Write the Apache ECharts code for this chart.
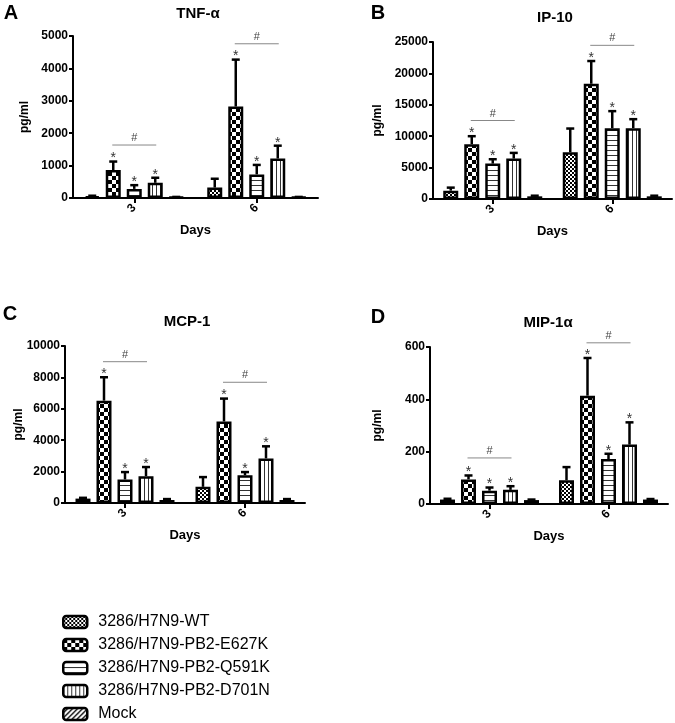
<!DOCTYPE html>
<html>
<head>
<meta charset="utf-8">
<script src="https://cdn.jsdelivr.net/npm/echarts@6/dist/echarts.min.js"></script>
<style>
html, body { margin: 0; padding: 0; background: #fff; }
#chart { width: 675px; height: 723px; }
</style>
</head>
<body>
<div id="chart"></div>
<script>
var days = ['3', '6'];
var groups = ['3286/H7N9-WT', '3286/H7N9-PB2-E627K', '3286/H7N9-PB2-Q591K', '3286/H7N9-PB2-D701N', 'Mock'];
var starred = [0, 1, 1, 1, 0];

// means and SD per group, [day 3, day 6]
var tnfMean = [[52, 323], [865, 2823], [281, 729], [469, 1219], [25, 25]];
var tnfErr = [[18, 271], [260, 1448], [115, 292], [156, 396], [8, 8]];
var tnfHash = [1635, 4760];

var ip10Mean = [[1330, 7450], [8720, 18350], [5640, 11280], [6440, 11280], [425, 425]];
var ip10Err = [[480, 3770], [1280, 3620], [690, 2710], [900, 1430], [100, 100]];
var ip10Hash = [12500, 24470];

var mcp1Mean = [[280, 1030], [6520, 5190], [1500, 1770], [1710, 2840], [190, 190]];
var mcp1Err = [[50, 620], [1490, 1460], [470, 200], [580, 770], [60, 60]];
var mcp1Hash = [9000, 7690];

var mip1aMean = [[17, 91], [94, 414], [51, 172], [54, 227], [15, 17]];
var mip1aErr = [[3, 50], [15, 144], [12, 20], [14, 85], [2, 2]];
var mip1aHash = [176, 616];

var FONT = 'Liberation Sans, Arial, sans-serif';
var BAR_W = 15;
var PITCH = 21; // barWidth + gap (40%)

function pattern(kind) {
    var c = document.createElement('canvas');
    var ctx;
    if (kind === 'fine') {
        c.width = 4; c.height = 4;
        ctx = c.getContext('2d');
        ctx.fillStyle = '#fff'; ctx.fillRect(0, 0, 4, 4);
        ctx.fillStyle = '#000'; ctx.fillRect(0, 0, 2, 2); ctx.fillRect(2, 2, 2, 2);
    } else if (kind === 'big') {
        c.width = 8; c.height = 8;
        ctx = c.getContext('2d');
        ctx.fillStyle = '#fff'; ctx.fillRect(0, 0, 8, 8);
        ctx.fillStyle = '#000'; ctx.fillRect(0, 0, 4, 4); ctx.fillRect(4, 4, 4, 4);
    } else if (kind === 'hlines') {
        c.width = 4; c.height = 5;
        ctx = c.getContext('2d');
        ctx.fillStyle = '#fff'; ctx.fillRect(0, 0, 4, 5);
        ctx.fillStyle = '#333'; ctx.fillRect(0, 0, 4, 1);
    } else if (kind === 'vlines') {
        c.width = 4; c.height = 4;
        ctx = c.getContext('2d');
        ctx.fillStyle = '#fff'; ctx.fillRect(0, 0, 4, 4);
        ctx.fillStyle = '#333'; ctx.fillRect(0, 0, 1, 4);
    } else {
        c.width = 5; c.height = 5;
        ctx = c.getContext('2d');
        ctx.fillStyle = '#fff'; ctx.fillRect(0, 0, 5, 5);
        ctx.strokeStyle = '#000'; ctx.lineWidth = 1.3;
        ctx.beginPath();
        ctx.moveTo(-1, 6); ctx.lineTo(6, -1);
        ctx.moveTo(-1, 1); ctx.lineTo(1, -1);
        ctx.moveTo(4, 6); ctx.lineTo(6, 4);
        ctx.stroke();
    }
    return { image: c, repeat: 'repeat' };
}

var fills = [pattern('fine'), pattern('big'), pattern('hlines'), pattern('vlines'), pattern('diag')];

var panels = [
    { letter: 'A', title: 'TNF-α', mean: tnfMean, err: tnfErr, hash: tnfHash, max: 5000, step: 1000,
      grid: { left: 73, top: 36, width: 245, height: 162 }, nameGap: 42, tx: 198, ty: 14, lx: 11, ly: 13 },
    { letter: 'B', title: 'IP-10', mean: ip10Mean, err: ip10Err, hash: ip10Hash, max: 25000, step: 5000,
      grid: { left: 433, top: 42, width: 239, height: 157 }, nameGap: 49, tx: 555, ty: 18, lx: 378, ly: 13 },
    { letter: 'C', title: 'MCP-1', mean: mcp1Mean, err: mcp1Err, hash: mcp1Hash, max: 10000, step: 2000,
      grid: { left: 65, top: 346, width: 240, height: 157 }, nameGap: 40, tx: 187, ty: 322, lx: 10, ly: 314 },
    { letter: 'D', title: 'MIP-1α', mean: mip1aMean, err: mip1aErr, hash: mip1aHash, max: 600, step: 200,
      grid: { left: 430, top: 347, width: 238, height: 157 }, nameGap: 46, tx: 548, ty: 323, lx: 378, ly: 317 }
];

function renderErr(params, api) {
    var day = api.value(0), v = api.value(1), e = api.value(2), g = api.value(3), star = api.value(4);
    var base = api.coord([day, v]);
    var top = api.coord([day, v + e]);
    var x = base[0] + (g - 2) * PITCH;
    var kids = [
        { type: 'line', shape: { x1: x, y1: base[1], x2: x, y2: top[1] }, style: { stroke: '#000', lineWidth: 2.5 } },
        { type: 'line', shape: { x1: x - 4, y1: top[1], x2: x + 4, y2: top[1] }, style: { stroke: '#000', lineWidth: 2.5 } }
    ];
    if (star) {
        kids.push({ type: 'text', style: { text: '*', x: x, y: top[1] - 3, align: 'center', verticalAlign: 'middle',
            fontSize: 14, fontFamily: FONT, fill: '#333' } });
    }
    return { type: 'group', children: kids };
}

function renderHash(params, api) {
    var p = api.coord([api.value(0), api.value(1)]);
    return { type: 'group', children: [
        { type: 'line', shape: { x1: p[0] - 22, y1: p[1], x2: p[0] + 22, y2: p[1] }, style: { stroke: '#888', lineWidth: 1 } },
        { type: 'text', style: { text: '#', x: p[0], y: p[1] - 7, align: 'center', verticalAlign: 'middle',
            fontSize: 11, fontFamily: FONT, fill: '#444' } }
    ] };
}

var grids = [], xAxes = [], yAxes = [], series = [], graphics = [];

panels.forEach(function (p, i) {
    grids.push(Object.assign({ outerBoundsMode: 'none' }, p.grid));
    xAxes.push({
        type: 'category', gridIndex: i, data: days,
        name: 'Days', nameLocation: 'middle', nameGap: 26, nameMoveOverlap: false,
        nameTextStyle: { fontSize: 13, fontWeight: 'bold', fontFamily: FONT, color: '#000' },
        axisLine: { show: true, lineStyle: { color: '#000', width: 2 } },
        axisTick: { show: true, alignWithLabel: true, length: 5, lineStyle: { color: '#000', width: 2 } },
        axisLabel: { rotate: 45, margin: 8, fontSize: 12, fontWeight: 'bold', fontFamily: FONT, color: '#000' },
        splitLine: { show: false }
    });
    yAxes.push({
        type: 'value', gridIndex: i, min: 0, max: p.max, interval: p.step,
        name: 'pg/ml', nameLocation: 'middle', nameGap: p.nameGap, nameRotate: 90, nameMoveOverlap: false,
        nameTextStyle: { fontSize: 12, fontWeight: 'bold', fontFamily: FONT, color: '#000' },
        axisLine: { show: true, lineStyle: { color: '#000', width: 2 } },
        axisTick: { show: true, length: 4, lineStyle: { color: '#000', width: 2 } },
        axisLabel: { margin: 5, fontSize: 12, fontWeight: 'bold', fontFamily: FONT, color: '#000',
            formatter: function (v) { return String(v); } },
        splitLine: { show: false }
    });
    groups.forEach(function (name, g) {
        series.push({
            type: 'bar', name: name, xAxisIndex: i, yAxisIndex: i,
            data: p.mean[g], barWidth: BAR_W, barGap: '40%',
            itemStyle: { color: fills[g], borderColor: '#000', borderWidth: 2.5 },
            emphasis: { disabled: true }
        });
    });
    var errData = [];
    groups.forEach(function (name, g) {
        days.forEach(function (d, di) {
            errData.push([di, p.mean[g][di], p.err[g][di], g, starred[g]]);
        });
    });
    series.push({ type: 'custom', xAxisIndex: i, yAxisIndex: i, renderItem: renderErr, data: errData, z: 5, clip: false });
    series.push({ type: 'custom', xAxisIndex: i, yAxisIndex: i, renderItem: renderHash, z: 5, clip: false,
        data: p.hash.map(function (v, di) { return [di, v]; }) });
    graphics.push({ type: 'text', x: p.tx, y: p.ty, style: { text: p.title, align: 'center', verticalAlign: 'middle',
        fontSize: 15, fontWeight: 'bold', fontFamily: FONT, fill: '#000' } });
    graphics.push({ type: 'text', x: p.lx, y: p.ly, style: { text: p.letter, align: 'center', verticalAlign: 'middle',
        fontSize: 20, fontWeight: 'bold', fontFamily: FONT, fill: '#000' } });
});

var chart = echarts.init(document.getElementById('chart'), null, { renderer: 'canvas' });
chart.setOption({
    animation: false,
    backgroundColor: '#fff',
    grid: grids,
    xAxis: xAxes,
    yAxis: yAxes,
    legend: {
        data: groups, orient: 'vertical', left: 62, top: 614, padding: 0,
        itemWidth: 24, itemHeight: 12, itemGap: 7, icon: 'roundRect', selectedMode: false,
        itemStyle: { borderColor: '#000', borderWidth: 2.5 },
        textStyle: { fontSize: 16, lineHeight: 16, fontFamily: FONT, color: '#000', padding: [0, 0, 0, 6] }
    },
    graphic: graphics,
    series: series
});
</script>
</body>
</html>
